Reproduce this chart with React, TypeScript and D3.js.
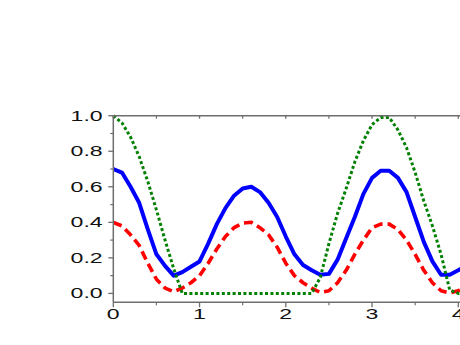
import React from "react";
import * as d3 from "d3";

// sampled x positions
const xs = [
  0, 0.1, 0.2, 0.3, 0.4, 0.5, 0.6, 0.7, 0.8, 0.9, 1.0, 1.1, 1.2, 1.3, 1.4, 1.5, 1.6, 1.7, 1.8, 1.9, 2.0,
  2.1, 2.2, 2.3, 2.4, 2.5, 2.6, 2.7, 2.8, 2.9, 3.0, 3.1, 3.2, 3.3, 3.4, 3.5, 3.6, 3.7, 3.8, 3.9, 4.0, 4.1,
];

const blueVals = [
  0.7, 0.68, 0.6, 0.51, 0.36, 0.22, 0.155, 0.1, 0.12, 0.15, 0.18, 0.28, 0.39, 0.48, 0.55, 0.59, 0.6, 0.57,
  0.51, 0.43, 0.32, 0.22, 0.16, 0.13, 0.105, 0.11, 0.19, 0.31, 0.43, 0.56, 0.65, 0.69, 0.69, 0.65, 0.57,
  0.43, 0.29, 0.18, 0.105, 0.105, 0.13, 0.16,
];

const redVals = [
  0.4, 0.38, 0.33, 0.27, 0.17, 0.08, 0.03, 0.01, 0.03, 0.06, 0.1, 0.17, 0.25, 0.32, 0.37, 0.395, 0.4, 0.37,
  0.33, 0.26, 0.17, 0.1, 0.06, 0.03, 0.005, 0.015, 0.06, 0.13, 0.22, 0.3, 0.37, 0.39, 0.39, 0.36, 0.3, 0.22,
  0.13, 0.06, 0.015, 0.002, 0.015, 0.04,
];

const greenVals = [
  1.0, 0.96, 0.88, 0.77, 0.63, 0.47, 0.3, 0.14, 0, 0, 0, 0, 0, 0, 0, 0, 0, 0, 0, 0, 0, 0, 0, 0, 0.09, 0.28,
  0.45, 0.59, 0.74, 0.86, 0.95, 0.99, 0.99, 0.92, 0.82, 0.68, 0.52, 0.38, 0.22, 0.02, 0, 0,
];

const yTicks = [0, 0.2, 0.4, 0.6, 0.8, 1.0];
const yMinor = [0.1, 0.3, 0.5, 0.7, 0.9];
const xTicks = [0, 1, 2, 3, 4];
const xMinor = [0.5, 1.5, 2.5, 3.5];

const W = 460;
const H = 345;
const left = 113.3;
const top = 115.7;
const bottom = 302.3;

const axisColor = "#6e6e6e";
const stretch = "scale(1.65,1)";

export default function App() {
  const x = d3.scaleLinear().domain([0, 4]).range([left, 458.3]);
  const y = d3.scaleLinear().domain([-0.05, 1.0]).range([bottom, top]);

  const line = (vals: number[]) =>
    d3
      .line<number>()
      .x((_, i) => x(xs[i]))
      .y((d) => y(d))(vals) || "";

  const series = [
    { vals: blueVals, color: "#0000ff", width: 4, dash: undefined },
    { vals: redVals, color: "#ff0000", width: 3.6, dash: "9,5" },
    { vals: greenVals, color: "#008000", width: 3, dash: "3,2.4" },
  ];

  return (
    <svg
      width={W}
      height={H}
      style={{ position: "absolute", left: 0, top: 0, background: "#fff" }}
      fontFamily="'Liberation Sans', Arial, sans-serif"
    >
      <defs>
        <clipPath id="plot">
          <rect x={left} y={top - 2} width={W} height={bottom - top + 2} />
        </clipPath>
      </defs>

      <g clipPath="url(#plot)">
        {series.map((s, i) => (
          <path
            key={i}
            d={line(s.vals)}
            fill="none"
            stroke={s.color}
            strokeWidth={s.width}
            strokeDasharray={s.dash}
            strokeLinejoin="round"
          />
        ))}
      </g>

      {/* frame */}
      <line x1={left} x2={W} y1={top} y2={top} stroke={axisColor} strokeWidth={1.5} />
      <line x1={left} x2={W} y1={bottom} y2={bottom} stroke={axisColor} strokeWidth={1.5} />
      <line x1={left} x2={left} y1={top} y2={bottom} stroke={axisColor} strokeWidth={1.5} />

      {/* y ticks */}
      {yTicks.map((t) => (
        <g key={"y" + t}>
          <line x1={left - 5} x2={left} y1={y(t)} y2={y(t)} stroke={axisColor} strokeWidth={1.3} />
          <text
            transform={`translate(102.7,${y(t) + 5}) ${stretch}`}
            textAnchor="end"
            fontSize={14}
            fill="#111"
          >
            {t.toFixed(1)}
          </text>
        </g>
      ))}
      {yMinor.map((t) => (
        <line key={"ym" + t} x1={left - 3} x2={left} y1={y(t)} y2={y(t)} stroke={axisColor} strokeWidth={1.2} />
      ))}

      {/* x ticks */}
      {xTicks.map((t) => (
        <g key={"x" + t}>
          <line x1={x(t)} x2={x(t)} y1={bottom} y2={bottom + 5} stroke={axisColor} strokeWidth={1.3} />
          <line x1={x(t)} x2={x(t)} y1={top} y2={top + 3} stroke={axisColor} strokeWidth={1.3} />
          <text
            transform={`translate(${x(t)},319) ${stretch}`}
            textAnchor="middle"
            fontSize={14}
            fill="#111"
          >
            {t}
          </text>
        </g>
      ))}
      {xMinor.map((t) => (
        <g key={"xm" + t}>
          <line x1={x(t)} x2={x(t)} y1={bottom} y2={bottom + 3} stroke={axisColor} strokeWidth={1.2} />
          <line x1={x(t)} x2={x(t)} y1={top} y2={top + 3} stroke={axisColor} strokeWidth={1.2} />
        </g>
      ))}
    </svg>
  );
}
